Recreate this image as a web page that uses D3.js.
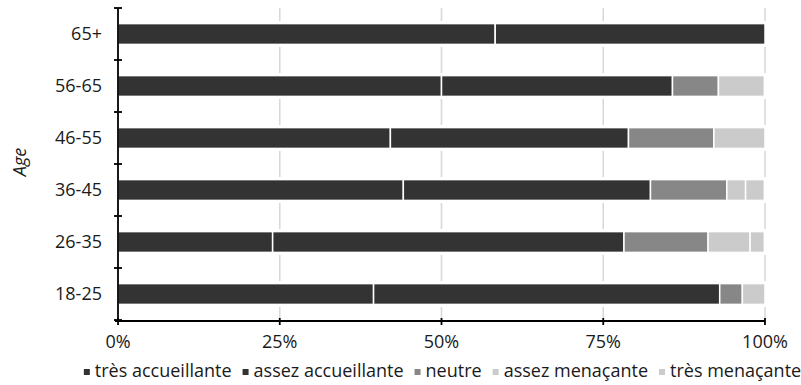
<!DOCTYPE html>
<html><head><meta charset="utf-8">
<script src="https://cdn.jsdelivr.net/npm/d3@7"></script>
<style>body{margin:0;background:#fff} text{font-family:"Open Sans",sans-serif;fill:#1a1a1a}</style>
</head><body><svg id="c" width="801" height="385"></svg>
<script>
const categories = ["65+","56-65","46-55","36-45","26-35","18-25"];
const seriesNames = ["très accueillante","assez accueillante","neutre","assez menaçante","très menaçante"];
const tresAccueillante = [58.3,50.0,42.1,44.1,23.9,39.5];
const assezAccueillante = [41.7,35.7,36.8,38.2,54.3,53.5];
const neutre = [0,7.1,13.2,11.8,13.0,3.5];
const assezMenacante = [0,7.1,7.9,2.9,6.5,3.5];
const tresMenacante = [0,0,0,2.9,2.2,0];
const xTicks = [0,25,50,75,100];
const axisTitle = "Age";
const colors = ["#333333","#333333","#878787","#cbcbcb","#cbcbcb"];

const series = [tresAccueillante,assezAccueillante,neutre,assezMenacante,tresMenacante];
const rows = categories.map((c,i)=>{const r={cat:c}; series.forEach((s,k)=>r["k"+k]=s[i]); return r;});
const keys = series.map((s,k)=>"k"+k);
const stacked = d3.stack().keys(keys)(rows);

const svg = d3.select("#c");
const x = d3.scaleLinear().domain([0,100]).range([118,765]);
const y = d3.scaleBand().domain(categories).range([8,320]).paddingInner(0.6).paddingOuter(0.3);
const step = y.step();
const y0 = y.range()[0], y1 = y.range()[1];

// dashed-looking gridlines: segments centred on band boundaries
const boundaries = d3.range(categories.length+1).map(i=>y0+i*step);
const grid = svg.append("g");
xTicks.filter(t=>t>0).forEach(t=>{
  boundaries.forEach(b=>{
    const a = Math.max(y0, b-step/4), e = Math.min(y1+1, b+step/4);
    grid.append("line").attr("x1",x(t)).attr("x2",x(t)).attr("y1",a).attr("y2",e)
      .attr("stroke","#d9d9d9").attr("stroke-width",1.6);
  });
});

// bars
const bars = svg.append("g");
stacked.forEach((layer,k)=>{
  bars.selectAll(null).data(layer.filter(d=>d[1]-d[0]>0)).enter().append("rect")
    .attr("x",d=>x(d[0])).attr("width",d=>x(d[1])-x(d[0]))
    .attr("y",d=>y(d.data.cat)).attr("height",y.bandwidth())
    .attr("fill",colors[k]).attr("stroke","#fff").attr("stroke-width",1.5);
});

// y axis
const ax = svg.append("g").attr("stroke","#000").attr("stroke-width",1.8);
ax.append("line").attr("x1",x(0)).attr("x2",x(0)).attr("y1",y0).attr("y2",y1+1);
boundaries.forEach(b=>ax.append("line").attr("x1",x(0)-4).attr("x2",x(0)+4).attr("y1",b).attr("y2",b));
// x axis
const xa = y1+1;
ax.append("line").attr("x1",x(0)-3).attr("x2",x(100)).attr("y1",xa).attr("y2",xa);
xTicks.forEach(t=>ax.append("line").attr("x1",x(t)).attr("x2",x(t)).attr("y1",xa-3).attr("y2",xa+4));

// labels
svg.append("g").selectAll("text").data(categories).enter().append("text")
  .attr("x",102).attr("y",d=>y(d)+y.bandwidth()/2).attr("dy","0.36em")
  .attr("text-anchor","end").attr("font-size",18).text(d=>d);
svg.append("g").selectAll("text").data(xTicks).enter().append("text")
  .attr("x",d=>x(d)).attr("y",348).attr("text-anchor","middle").attr("font-size",18).text(d=>d+"%");
svg.append("text").attr("transform","translate(26,162) rotate(-90)").attr("text-anchor","middle")
  .attr("font-size",18).attr("font-style","italic").text(axisTitle);

// legend
const lg = svg.append("g");
let cx = 0;
const items = seriesNames.map((n,k)=>{
  const g = lg.append("g");
  g.append("rect").attr("x",cx).attr("y",369).attr("width",6).attr("height",6).attr("fill",colors[k]);
  const t = g.append("text").attr("x",cx+11).attr("y",377).attr("font-size",18).text(n);
  cx += 11 + t.node().getComputedTextLength() + 11;
  return g;
});
const total = cx - 11;
lg.attr("transform",`translate(${(86+799)/2 - total/2},0)`);
</script></body></html>
